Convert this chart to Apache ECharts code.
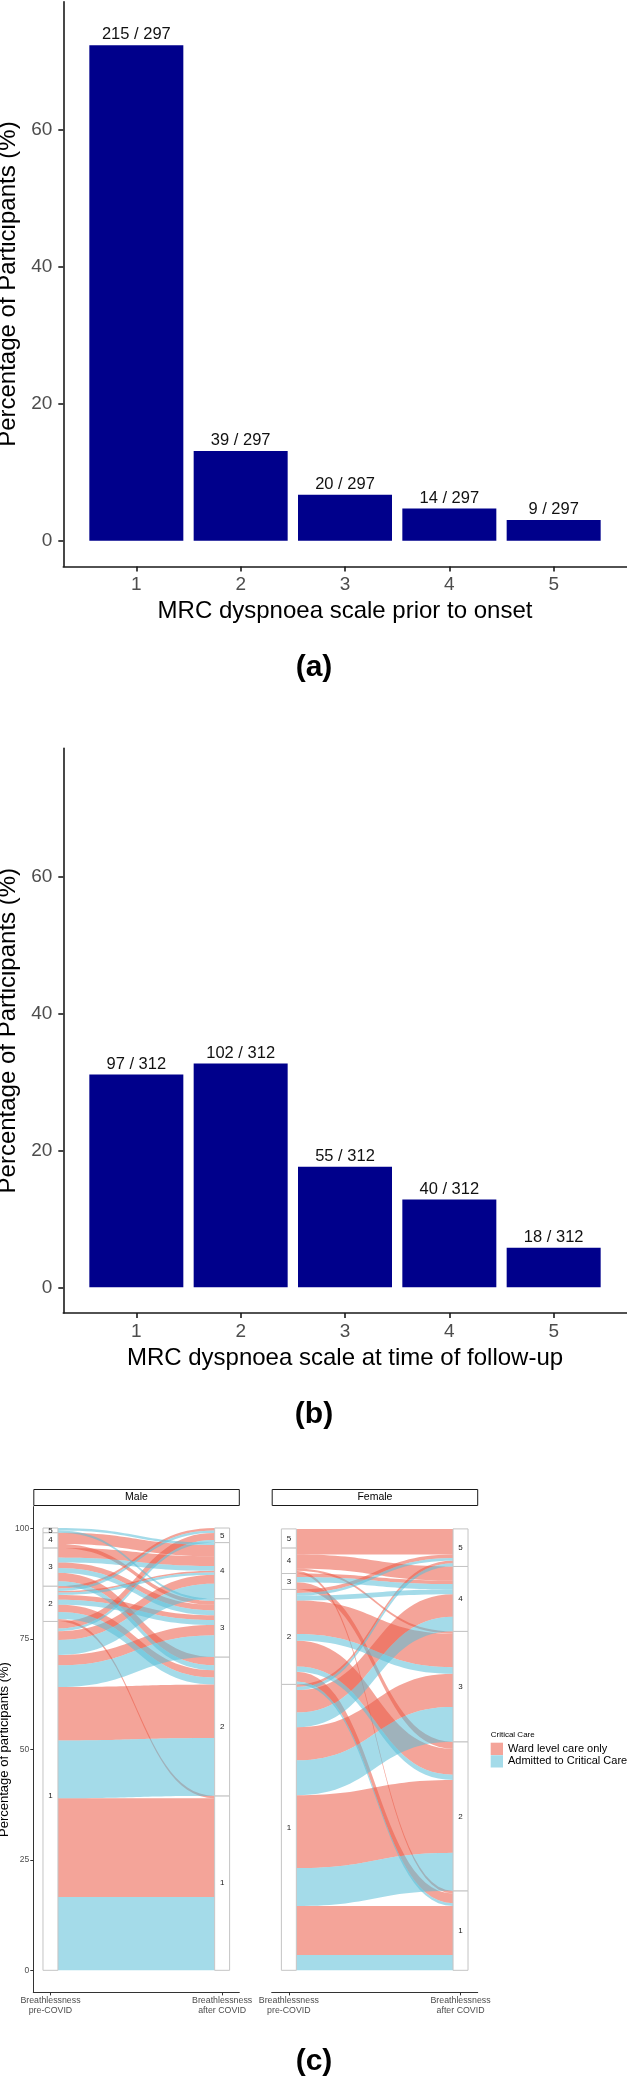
<!DOCTYPE html>
<html><head><meta charset="utf-8">
<script src="https://cdn.jsdelivr.net/npm/echarts@6/dist/echarts.min.js"></script>
<style>html,body{margin:0;padding:0;background:#fff}#main{width:627px;height:2082px}</style>
</head><body><div id="main"></div>
<script>
// ---------- data ----------
const mrcCategories = [1, 2, 3, 4, 5];
const priorPercent = [72.39, 13.13, 6.73, 4.71, 3.03];
const priorLabels = ['215 / 297', '39 / 297', '20 / 297', '14 / 297', '9 / 297'];
const followPercent = [31.09, 32.69, 17.63, 12.82, 5.77];
const followLabels = ['97 / 312', '102 / 312', '55 / 312', '40 / 312', '18 / 312'];
const barYTicks = [0, 20, 40, 60];
const alluvialYTicks = [0, 25, 50, 75, 100];
const alluvialAxisLabels = ['Breathlessness\npre-COVID', 'Breathlessness\nafter COVID'];
const careGroups = ['Ward level care only', 'Admitted to Critical Care'];
const facetNames = ['Male', 'Female'];
// flows: [pre-COVID MRC, after-COVID MRC, group ('W' ward / 'CC' critical care), % of participants]
const maleFlows = [
  [1,1,'CC',16.6],[1,1,'W',22.35],[1,2,'CC',13.1],[1,2,'W',12.1],[1,3,'CC',4.9],[1,3,'W',2.35],
  [1,4,'CC',3.4],[1,4,'W',2.0],[1,5,'CC',0.6],[1,5,'W',1.6],
  [2,1,'W',0.55],[2,2,'CC',1.6],[2,2,'W',1.65],[2,3,'CC',1.1],[2,3,'W',1.1],[2,4,'CC',0.55],
  [2,4,'W',0.35],[2,5,'CC',0.55],[2,5,'W',0.55],
  [3,2,'CC',1.1],[3,2,'W',1.9],[3,3,'CC',1.1],[3,3,'W',1.25],[3,4,'CC',1.1],[3,4,'W',2.2],
  [4,3,'W',0.9],[4,4,'W',2.55],
  [5,3,'CC',0.5],[5,4,'CC',0.55]
];
const femaleFlows = [
  [1,1,'CC',3.45],[1,1,'W',11.1],[1,2,'CC',8.6],[1,2,'W',16.5],[1,3,'CC',7.9],[1,3,'W',7.5],
  [1,4,'CC',3.3],[1,4,'W',5.1],[1,5,'CC',0.7],[1,5,'W',0.6],
  [2,1,'CC',0.65],[2,1,'W',2.2],[2,2,'CC',1.2],[2,2,'W',5.85],[2,3,'CC',1.5],[2,3,'W',7.6],
  [2,4,'CC',1.1],[2,5,'CC',0.6],[2,5,'W',0.8],
  [3,2,'W',1.6],[3,4,'CC',1.2],[3,4,'W',0.8],
  [4,1,'W',0.6],[4,3,'W',0.5],[4,4,'W',3.2],[4,5,'W',1.5],
  [5,5,'W',4.3]
];

// ---------- layout helpers ----------
const FONT = 'Liberation Sans, Arial, Helvetica, sans-serif';
const HALF_W = 0.0436;
const COLORS = { W: 'rgba(235,90,70,0.55)', CC: 'rgba(90,190,215,0.55)' };
const grpRank = g => (g === 'CC' ? 0 : 1);

function layoutFlows(flows) {
  const res = flows.map(() => ({}));
  const idx = flows.map((f, i) => i);
  const left = idx.slice().sort((a, b) => flows[a][0] - flows[b][0] || flows[a][1] - flows[b][1] || grpRank(flows[a][2]) - grpRank(flows[b][2]));
  let acc = 0;
  left.forEach(i => { res[i].l0 = acc; acc += flows[i][3]; res[i].l1 = acc; });
  const right = idx.slice().sort((a, b) => flows[a][1] - flows[b][1] || flows[a][0] - flows[b][0] || grpRank(flows[a][2]) - grpRank(flows[b][2]));
  acc = 0;
  right.forEach(i => { res[i].r0 = acc; acc += flows[i][3]; res[i].r1 = acc; });
  const strata = [];
  [0, 1].forEach(side => {
    mrcCategories.forEach(c => {
      let lo = Infinity, hi = -Infinity;
      flows.forEach((f, i) => {
        if (f[side] === c) {
          lo = Math.min(lo, side === 0 ? res[i].l0 : res[i].r0);
          hi = Math.max(hi, side === 0 ? res[i].l1 : res[i].r1);
        }
      });
      if (hi > lo) strata.push({ pos: side + 1, label: String(c), lo, hi });
    });
  });
  return { flows: res, strata };
}

function bez(p, q, pts) {
  const m = (p[0] + q[0]) / 2, N = 30;
  for (let k = 0; k <= N; k++) {
    const t = k / N, u = 1 - t;
    const x = u*u*u*p[0] + 3*u*u*t*m + 3*u*t*t*m + t*t*t*q[0];
    const y = u*u*u*p[1] + 3*u*u*t*p[1] + 3*u*t*t*q[1] + t*t*t*q[1];
    pts.push([x, y]);
  }
}

function flowSeries(flows, lay, group, axisIdx) {
  const color = COLORS[group];
  const ids = flows.map((f, i) => i).filter(i => flows[i][2] === group);
  return {
    type: 'custom', name: careGroups[group === 'W' ? 0 : 1],
    coordinateSystem: 'cartesian2d', xAxisIndex: axisIdx, yAxisIndex: axisIdx,
    itemStyle: { color }, silent: true, z: 2,
    encode: { x: 0, y: 1 },
    data: ids.map(i => [1.5, 50, i]),
    renderItem: (params, api) => {
      const L = lay.flows[api.value(2)];
      const xL = 1 + HALF_W, xR = 2 - HALF_W;
      const a0 = api.coord([xL, L.l0]), a1 = api.coord([xL, L.l1]);
      const b0 = api.coord([xR, L.r0]), b1 = api.coord([xR, L.r1]);
      const pts = [];
      bez(a1, b1, pts);
      bez(b0, a0, pts);
      return { type: 'polygon', shape: { points: pts }, style: { fill: color } };
    }
  };
}

function strataSeries(lay, axisIdx) {
  return {
    type: 'custom', coordinateSystem: 'cartesian2d', xAxisIndex: axisIdx, yAxisIndex: axisIdx,
    silent: true, z: 3, encode: { x: 0, y: 1 },
    data: lay.strata.map((s, i) => [s.pos, (s.lo + s.hi) / 2, i]),
    renderItem: (params, api) => {
      const s = lay.strata[api.value(2)];
      const p0 = api.coord([s.pos - HALF_W, s.hi]);
      const p1 = api.coord([s.pos + HALF_W, s.lo]);
      const c = api.coord([s.pos, (s.lo + s.hi) / 2]);
      return {
        type: 'group', children: [
          { type: 'rect', shape: { x: p0[0], y: p0[1], width: p1[0] - p0[0], height: p1[1] - p0[1] },
            style: { fill: '#fff', stroke: '#c4c4c4', lineWidth: 1 } },
          { type: 'text', style: { text: s.label, x: c[0], y: c[1], fill: '#1a1a1a', fontSize: 8, fontFamily: FONT,
            align: 'center', verticalAlign: 'middle', textAlign: 'center', textVerticalAlign: 'middle' } }
        ]
      };
    }
  };
}

const maleLayout = layoutFlows(maleFlows);
const femaleLayout = layoutFlows(femaleFlows);

// ---------- axes ----------
function barXAxis(gi, name) {
  return {
    type: 'value', gridIndex: gi, min: 0.3, max: 5.7,
    axisLine: { show: true, onZero: false, lineStyle: { color: '#1a1a1a', width: 1.6 } },
    axisTick: { show: true, customValues: mrcCategories, length: 5, lineStyle: { color: '#1a1a1a', width: 1.6 } },
    axisLabel: { customValues: mrcCategories, fontSize: 19, color: '#4d4d4d', margin: 9, fontFamily: FONT },
    splitLine: { show: false },
    name, nameLocation: 'middle', nameGap: 33,
    nameTextStyle: { fontSize: 24, color: '#000', fontFamily: FONT }
  };
}
function barYAxis(gi) {
  return {
    type: 'value', gridIndex: gi, min: -3.75, max: 78.75,
    axisLine: { show: true, onZero: false, lineStyle: { color: '#1a1a1a', width: 1.6 } },
    axisTick: { show: true, customValues: barYTicks, length: 5, lineStyle: { color: '#1a1a1a', width: 1.6 } },
    axisLabel: { customValues: barYTicks, fontSize: 19, color: '#4d4d4d', margin: 11, fontFamily: FONT },
    splitLine: { show: false },
    name: 'Percentage of Participants (%)', nameLocation: 'middle', nameGap: 40, nameRotate: 90,
    nameTextStyle: { fontSize: 24, color: '#000', fontFamily: FONT }
  };
}
function alluvialXAxis(gi) {
  return {
    type: 'value', gridIndex: gi, min: 0.9, max: 2.1,
    axisLine: { show: true, onZero: false, lineStyle: { color: '#333', width: 1 } },
    axisTick: { show: true, customValues: [1, 2], length: 3, lineStyle: { color: '#333', width: 1 } },
    axisLabel: { customValues: [1, 2], formatter: v => alluvialAxisLabels[Math.round(v) - 1],
      fontSize: 8.8, lineHeight: 10, color: '#4d4d4d', margin: 3, fontFamily: FONT },
    splitLine: { show: false }
  };
}
function alluvialYAxis(gi, visible) {
  return {
    type: 'value', gridIndex: gi, min: -5, max: 105,
    axisLine: { show: visible, onZero: false, lineStyle: { color: '#333', width: 1 } },
    axisTick: { show: visible, customValues: alluvialYTicks, length: 3, lineStyle: { color: '#333', width: 1 } },
    axisLabel: { show: visible, customValues: alluvialYTicks, fontSize: 8.5, color: '#4d4d4d', margin: 4, fontFamily: FONT },
    splitLine: { show: false },
    name: visible ? 'Percentage of participants (%)' : '', nameLocation: 'middle', nameGap: 21, nameRotate: 90,
    nameTextStyle: { fontSize: 13, color: '#000', fontFamily: FONT }
  };
}

function barSeries(gi, values, labels) {
  return {
    type: 'bar', xAxisIndex: gi, yAxisIndex: gi, barWidth: 94, silent: true,
    data: mrcCategories.map((c, i) => [c, values[i]]),
    itemStyle: { color: '#00008B' },
    label: { show: true, position: 'top', distance: 2, formatter: p => labels[p.dataIndex],
      fontSize: 16.5, color: '#111', fontFamily: FONT }
  };
}

function txt(text, x, y, size, weight, extra) {
  return Object.assign({ type: 'text', x, y, silent: true,
    style: { text, fill: '#000', fontSize: size, fontWeight: weight || 'normal', fontFamily: FONT,
      align: 'center', verticalAlign: 'middle', textAlign: 'center', textVerticalAlign: 'middle' } }, extra || {});
}
function strip(x, name) {
  return [
    { type: 'rect', shape: { x: x, y: 1489.5, width: 205.5, height: 16 }, silent: true,
      style: { fill: '#fff', stroke: '#1a1a1a', lineWidth: 1 } },
    txt(name, x + 102.7, 1497.5, 10.5)
  ];
}

const gridBase = { containLabel: false, outerBoundsMode: 'none' };
const option = {
  animation: false,
  backgroundColor: '#fff',
  textStyle: { fontFamily: FONT },
  grid: [
    Object.assign({ left: 63.3, top: 1.8, width: 563.4, height: 564.6 }, gridBase),
    Object.assign({ left: 63.3, top: 748.4, width: 563.4, height: 564.6 }, gridBase),
    Object.assign({ left: 33.3, top: 1506.6, width: 206, height: 485.8 }, gridBase),
    Object.assign({ left: 271.7, top: 1506.6, width: 206, height: 485.8 }, gridBase)
  ],
  xAxis: [
    barXAxis(0, 'MRC dyspnoea scale prior to onset'),
    barXAxis(1, 'MRC dyspnoea scale at time of follow-up'),
    alluvialXAxis(2), alluvialXAxis(3)
  ],
  yAxis: [barYAxis(0), barYAxis(1), alluvialYAxis(2, true), alluvialYAxis(3, false)],
  legend: {
    data: careGroups, orient: 'vertical', left: 490.7, top: 1742.7, padding: 0,
    itemWidth: 12.3, itemHeight: 12.3, itemGap: 0.2, icon: 'rect', selectedMode: false,
    textStyle: { fontSize: 11, color: '#000', fontFamily: FONT }
  },
  series: [
    barSeries(0, priorPercent, priorLabels),
    barSeries(1, followPercent, followLabels),
    flowSeries(maleFlows, maleLayout, 'W', 2),
    flowSeries(maleFlows, maleLayout, 'CC', 2),
    strataSeries(maleLayout, 2),
    flowSeries(femaleFlows, femaleLayout, 'W', 3),
    flowSeries(femaleFlows, femaleLayout, 'CC', 3),
    strataSeries(femaleLayout, 3)
  ],
  graphic: [
    txt('(a)', 314, 668, 30, 'bold'),
    txt('(b)', 314, 1414.6, 30, 'bold'),
    txt('(c)', 314, 2062, 30, 'bold'),
    ...strip(33.8, facetNames[0]),
    ...strip(272.2, facetNames[1]),
    { type: 'text', x: 490.7, y: 1735, silent: true,
      style: { text: 'Critical Care', fill: '#000', fontSize: 8, fontFamily: FONT,
        align: 'left', verticalAlign: 'middle', textAlign: 'left', textVerticalAlign: 'middle' } }
  ]
};

const chart = echarts.init(document.getElementById('main'), null, { renderer: 'canvas', width: 627, height: 2082 });
chart.setOption(option);
</script>
</body></html>
